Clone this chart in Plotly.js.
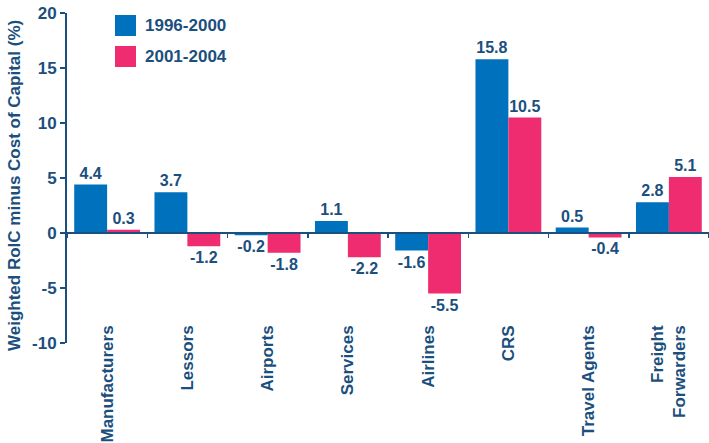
<!DOCTYPE html>
<html>
<head>
<meta charset="utf-8">
<script src="https://cdn.plot.ly/plotly-3.0.1.min.js"></script>
<style>html,body{margin:0;padding:0;background:#fff}#chart{width:709px;height:443px}</style>
</head>
<body>
<div id="chart"></div>
<script>
var categories = ['Manufacturers', 'Lessors', 'Airports', 'Services', 'Airlines', 'CRS', 'Travel Agents', 'Freight<br>Forwarders'];
var seriesNames = ['1996-2000', '2001-2004'];
var values1996 = [4.4, 3.7, -0.2, 1.1, -1.6, 15.8, 0.5, 2.8];
var values2001 = [0.3, -1.2, -1.8, -2.2, -5.5, 10.5, -0.4, 5.1];
var yTicks = [-10, -5, 0, 5, 10, 15, 20];

var dark = '#1b4f7e';
var blue = '#0071bc';
var pink = '#ee2c6f';
var fam = 'Liberation Sans, Arial, sans-serif';
var lblFont = {family: fam, size: 16, color: dark, weight: 'bold'};

var W = 709, H = 443, L = 67, R = 0, T = 13, B = 100;
var pw = W - L - R, ph = H - T - B;
function px(x) { return (x - L) / pw; }
function py(y) { return (H - B - y) / ph; }

var traces = [
  {type: 'bar', name: seriesNames[0], x: categories, y: values1996, marker: {color: blue},
   texttemplate: '%{y:.1f}', textposition: 'outside', textfont: lblFont, cliponaxis: false, showlegend: false, hoverinfo: 'skip'},
  {type: 'bar', name: seriesNames[1], x: categories, y: values2001, marker: {color: pink},
   texttemplate: '%{y:.1f}', textposition: 'outside', textfont: lblFont, cliponaxis: false, showlegend: false, hoverinfo: 'skip'},
  {type: 'scatter', mode: 'none', x: categories, y: categories.map(function(){return 0;}), xaxis: 'x2', showlegend: false, hoverinfo: 'skip'}
];

var layout = {
  width: W, height: H,
  margin: {l: L, r: R, t: T, b: B, pad: 0},
  paper_bgcolor: '#fff', plot_bgcolor: '#fff',
  font: {family: fam, color: dark, weight: 'bold'},
  barmode: 'group', bargap: 0.18, bargroupgap: 0,
  xaxis: {
    type: 'category', range: [-0.5, 7.5], anchor: 'free', position: py(321),
    showline: false, ticks: '', showgrid: false, zeroline: false,
    tickangle: -90, tickfont: {family: fam, size: 17, color: dark, weight: 'bold'}
  },
  xaxis2: {
    type: 'category', overlaying: 'x', matches: 'x', anchor: 'free', position: py(233),
    showline: true, linecolor: dark, linewidth: 2,
    ticks: 'outside', tickson: 'boundaries', ticklen: 4, tickwidth: 1.5, tickcolor: dark,
    showticklabels: false, showgrid: false, zeroline: false
  },
  yaxis: {
    range: [-10, 20], tickvals: yTicks, ticktext: yTicks.map(String),
    showline: true, linecolor: dark, linewidth: 2,
    ticks: 'outside', ticklen: 5, tickwidth: 1.5, tickcolor: dark,
    showgrid: false, zeroline: false,
    tickfont: {family: fam, size: 17, color: dark, weight: 'bold'}
  },
  shapes: [
    {type: 'rect', xref: 'paper', yref: 'paper', x0: px(115), x1: px(136), y0: py(36), y1: py(15), fillcolor: blue, line: {width: 0}},
    {type: 'rect', xref: 'paper', yref: 'paper', x0: px(115), x1: px(136), y0: py(67), y1: py(46), fillcolor: pink, line: {width: 0}}
  ],
  annotations: [
    {xref: 'paper', yref: 'paper', x: px(143), y: py(25.5), xanchor: 'left', yanchor: 'middle', showarrow: false,
     text: seriesNames[0], font: {family: fam, size: 17, color: dark, weight: 'bold'}},
    {xref: 'paper', yref: 'paper', x: px(143), y: py(56.5), xanchor: 'left', yanchor: 'middle', showarrow: false,
     text: seriesNames[1], font: {family: fam, size: 17, color: dark, weight: 'bold'}},
    {xref: 'paper', yref: 'paper', x: px(15), y: py(186), xanchor: 'center', yanchor: 'middle', showarrow: false,
     textangle: -90, text: 'Weighted RoIC minus Cost of Capital (%)', font: {family: fam, size: 17, color: dark, weight: 'bold'}}
  ]
};

Plotly.newPlot('chart', traces, layout, {staticPlot: true, displayModeBar: false});
</script>
</body>
</html>
